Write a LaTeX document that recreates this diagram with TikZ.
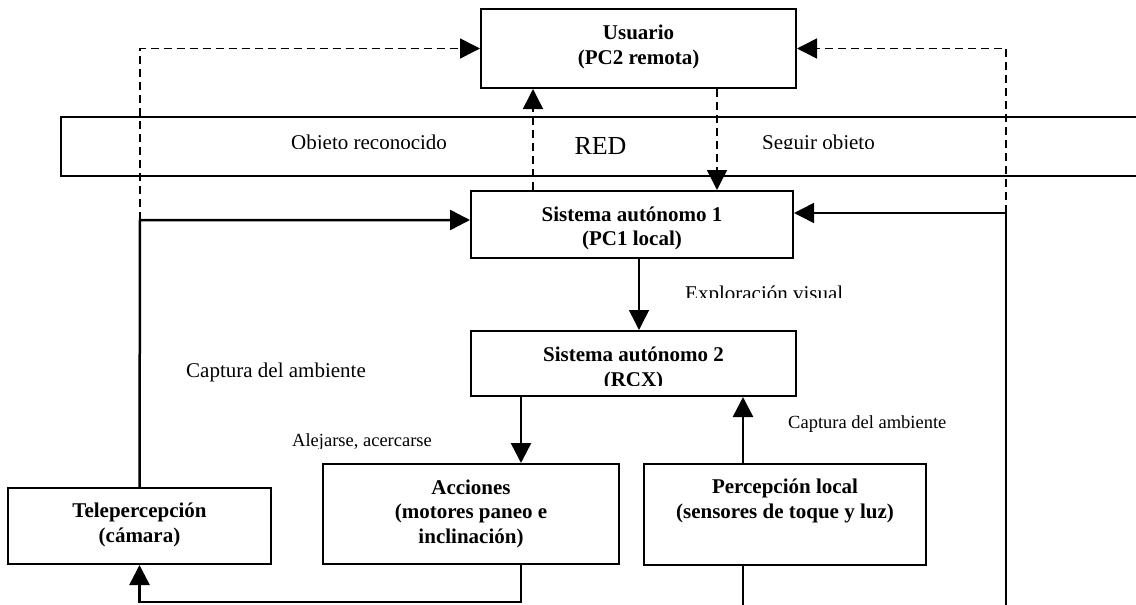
\documentclass[tikz,border=0pt]{standalone}
\usepackage{fontspec}
\setmainfont{Liberation Serif}
\usetikzlibrary{arrows.meta}

\begin{document}
\begin{tikzpicture}[
		x=1pt, y=-1pt,
		box/.style={draw, line width=2pt, inner sep=0pt},
		boxtext/.style={font=\fontsize{21}{24.5}\selectfont\bfseries, align=center, inner sep=0pt},
		lbl/.style={font=\fontsize{21}{25}\selectfont, anchor=base west, inner sep=0pt},
		smalllbl/.style={font=\fontsize{18.5}{22}\selectfont, anchor=base west, inner sep=0pt},
		tip/.style={-{Triangle[length=20pt, width=20pt]}},
		link/.style={tip, line width=1.5pt},
		heavylink/.style={tip, line width=2.5pt},
		dashlink/.style={tip, line width=1.5pt, dash pattern=on 8pt off 5pt},
	]
		\useasboundingbox (0,0) rectangle (1136,605);
		\node[draw, line width=1.6pt, minimum width=1079pt, minimum height=59pt, font=\fontsize{26}{30}\selectfont] (red) at (600.5,146.5) {RED};
		\node[box, minimum width=315pt, minimum height=79pt] (usr) at (638.5,48.5) {};
		\node[box, minimum width=322pt, minimum height=67pt] (sa1) at (632,224.5) {};
		\node[box, minimum width=325pt, minimum height=65pt] (sa2) at (633.5,363.5) {};
		\node[box, minimum width=263pt, minimum height=76pt] (tele) at (139.5,526) {};
		\node[box, minimum width=296pt, minimum height=100pt] (acc) at (471,514) {};
		\node[box, minimum width=282pt, minimum height=101pt] (perc) at (785,514.5) {};

		\node[boxtext] (usrtxt) at (638.5,47) {Usuario\\(PC2 remota)};
		\node[boxtext] (sa1txt) at (632,228.5) {Sistema autónomo 1\\(PC1 local)};
		\begin{scope}
			\clip (sa2.north west) rectangle (796,385);
			\node[boxtext] (sa2txt) at (633.5,369) {Sistema autónomo 2\\(RCX)};
		\end{scope}
		\node[boxtext] (teletxt) at (139.5,525) {Telepercepción\\(cámara)};
		\node[boxtext] (acctxt) at (471,513.5) {Acciones\\(motores paneo e\\inclinación)};
		\node[boxtext] (perctxt) at (785,501) {Percepción local\\(sensores de toque y luz)};

		\begin{scope}
			\clip (red.north west) rectangle (1136,148);
			\node[lbl] (obj) at (291,149.5) {Objeto reconocido};
			\node[lbl] (seg) at (762,149.5) {Seguir objeto};
		\end{scope}
		\begin{scope}
			\clip (600,262) rectangle (1000,297);
			\node[lbl] (expl) at (685,300) {Exploración visual};
		\end{scope}
		\node[lbl] (capl) at (186,377) {Captura del ambiente};
		\node[smalllbl] (capr) at (788,428) {Captura del ambiente};
		\begin{scope}
			\clip (280,420) rectangle (460,448);
			\node[smalllbl] (alej) at (292,446) {Alejarse, acercarse};
		\end{scope}

		\coordinate (jl) at (140,220);
		\coordinate (jr) at (1006,213);
		\coordinate (xup) at (533,0);
		\coordinate (xdn) at (717,0);
		\coordinate (xexp) at (639,0);
		\coordinate (xact) at (521,0);
		\coordinate (xper) at (743,0);
		\coordinate (rb) at (1006,605);

		\draw[dashlink] (jl) |- (usr.west);
		\draw[dashlink] (jr) |- (usr.east);
		\draw[dashlink] (sa1.north -| xup) -- (usr.south -| xup);
		\draw[dashlink] (usr.south -| xdn) -- (sa1.north -| xdn);
		\draw[heavylink] (tele.north) -- (jl) -- (jl -| sa1.west);
		\draw[link] (rb) -- (jr) -- (jr -| sa1.east);
		\draw[link] (sa1.south -| xexp) -- (sa2.north -| xexp);
		\draw[heavylink] (sa2.south -| xact) -- (acc.north -| xact);
		\draw[heavylink] (perc.north -| xper) -- (sa2.south -| xper);
		\draw[heavylink] (acc.south -| xact) -- ++(0,37) -| (tele.south);
		\draw[line width=1.8pt] (perc.south -| xper) -- (rb -| xper);
	\end{tikzpicture}
\end{document}
